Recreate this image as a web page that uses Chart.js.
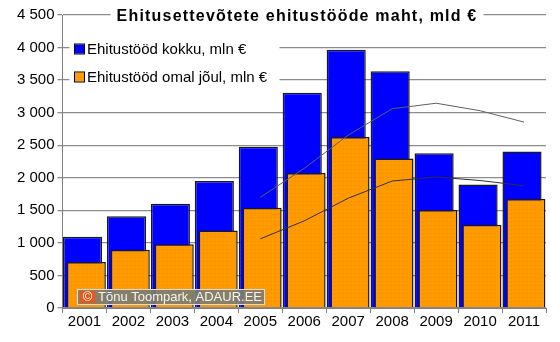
<!DOCTYPE html>
<html>
<head>
<meta charset="utf-8">
<script src="https://cdn.jsdelivr.net/npm/chart.js@4/dist/chart.umd.min.js"></script>
<style>
  html, body { margin: 0; padding: 0; background: #fff; }
  #wrap { width: 560px; height: 342px; }
</style>
</head>
<body>
<div id="wrap"><canvas id="buildChart" width="560" height="342"></canvas></div>
<script>
// data
const years = ['2001', '2002', '2003', '2004', '2005', '2006', '2007', '2008', '2009', '2010', '2011'];
const totalWork = [1095, 1410, 1600, 1950, 2475, 3305, 3965, 3635, 2375, 1895, 2405];
const ownWork = [705, 893, 980, 1190, 1540, 2075, 2625, 2295, 1505, 1278, 1675];
// thin trend lines (from 2005 on)
const totalTrend = [null, null, null, null, 1700, 2145, 2655, 3060, 3145, 3030, 2855];
const ownTrend = [null, null, null, null, 1062, 1338, 1686, 1950, 2012, 1958, 1878];
const yTicks = [0, 500, 1000, 1500, 2000, 2500, 3000, 3500, 4000, 4500];

const titleText = 'Ehitusettevõtete ehitustööde maht, mld €';
const labelTotal = 'Ehitustööd kokku, mln €';
const labelOwn = 'Ehitustööd omal jõul, mln €';

const FONT = '"Liberation Sans", Arial, sans-serif';

// faint dotted fill like the original orange bars
function orangePattern() {
    const c = document.createElement('canvas');
    c.width = 4; c.height = 4;
    const g = c.getContext('2d');
    g.fillStyle = '#FF9A00';
    g.fillRect(0, 0, 4, 4);
    g.fillStyle = '#F08A00';
    g.fillRect(1, 1, 1, 1);
    return g.createPattern(c, 'repeat');
}

function fmt(v) {
    if (v >= 1000) {
        const rest = String(v % 1000).padStart(3, '0');
        return Math.floor(v / 1000) + ' ' + rest;
    }
    return String(v);
}

// nudge bar datasets sideways a bit, like the excel overlap
const shiftPlugin = {
    id: 'shiftBars',
    beforeDatasetDraw(chart, args) {
        const ds = chart.data.datasets[args.index];
        chart.ctx.save();
        if (ds.shift) chart.ctx.translate(ds.shift, 0);
    },
    afterDatasetDraw(chart) {
        chart.ctx.restore();
    }
};

const decorPlugin = {
    id: 'decor',
    afterDraw(chart) {
        const ctx = chart.ctx;
        const area = chart.chartArea;
        ctx.save();

        // title on white box over top grid line
        ctx.font = 'bold 16px ' + FONT;
        ctx.letterSpacing = '1.2px';
        const tw = ctx.measureText(titleText).width;
        const tx = 297;
        ctx.fillStyle = '#fff';
        ctx.fillRect(tx - tw / 2 - 6, area.top - 9, tw + 12, 22);
        ctx.fillStyle = '#000';
        ctx.textAlign = 'center';
        ctx.textBaseline = 'middle';
        ctx.fillText(titleText, tx, 17);
        ctx.letterSpacing = '0px';

        // legend
        ctx.fillStyle = '#fff';
        ctx.fillRect(area.left + 7, 36, 210, 52);
        const items = [[labelTotal, '#0000FF', 49], [labelOwn, '#FF9A00', 77]];
        ctx.font = '15px ' + FONT;
        ctx.textAlign = 'left';
        items.forEach(function (it) {
            ctx.fillStyle = it[1];
            ctx.fillRect(75, it[2] - 4.5, 9, 9);
            ctx.strokeStyle = '#000';
            ctx.lineWidth = 1;
            ctx.strokeRect(74.5, it[2] - 5, 10, 10);
            ctx.fillStyle = '#000';
            ctx.fillText(it[0], 87, it[2] + 1);
        });

        // watermark
        const wx = 77, wy = 289;
        ctx.fillStyle = 'rgba(125,125,112,0.92)';
        ctx.fillRect(wx, wy, 188, 16);
        ctx.strokeStyle = '#ddd';
        ctx.strokeRect(wx + 0.5, wy + 0.5, 187, 15);
        ctx.fillStyle = '#E8581C';
        ctx.fillRect(wx + 3, wy + 2, 15, 12);
        ctx.fillStyle = '#fff';
        ctx.font = '13px ' + FONT;
        ctx.textAlign = 'center';
        ctx.fillText('©', wx + 10.5, wy + 8.5);
        ctx.textAlign = 'left';
        ctx.fillStyle = '#f4f4f4';
        ctx.fillText('Tõnu Toompark, ADAUR.EE', wx + 21, wy + 8.5);
        ctx.restore();
    }
};

const ctx = document.getElementById('buildChart').getContext('2d');
const buildChart = new Chart(ctx, {
    type: 'bar',
    data: {
        labels: years,
        datasets: [
            {
                type: 'line',
                label: 'trend kokku',
                data: totalTrend,
                borderColor: '#606060',
                borderWidth: 1,
                pointRadius: 0,
                fill: false,
                order: 0
            },
            {
                type: 'line',
                label: 'trend omal jõul',
                data: ownTrend,
                borderColor: '#303030',
                borderWidth: 1,
                pointRadius: 0,
                fill: false,
                order: 0
            },
            {
                label: labelOwn,
                data: ownWork,
                backgroundColor: orangePattern(),
                borderColor: '#1a1a1a',
                borderWidth: 1.5,
                grouped: false,
                categoryPercentage: 1,
                barPercentage: 0.89,
                shift: 1.8,
                order: 1
            },
            {
                label: labelTotal,
                data: totalWork,
                backgroundColor: '#0000FF',
                borderColor: '#1a1a1a',
                borderWidth: 1.5,
                grouped: false,
                categoryPercentage: 1,
                barPercentage: 0.89,
                shift: -2,
                order: 2
            }
        ]
    },
    options: {
        responsive: false,
        animation: false,
        layout: { padding: { top: 15, right: 14, left: 0, bottom: 11 } },
        plugins: {
            legend: { display: false },
            title: { display: false },
            tooltip: { enabled: false }
        },
        scales: {
            x: {
                offset: true,
                grid: {
                    offset: true,
                    drawOnChartArea: false,
                    drawTicks: true,
                    tickLength: 5,
                    color: '#808080'
                },
                border: { color: '#808080' },
                ticks: {
                    color: '#000',
                    font: { family: FONT, size: 15 },
                    padding: 0,
                    maxRotation: 0
                }
            },
            y: {
                min: 0,
                max: 4500,
                afterBuildTicks(axis) {
                    axis.ticks = yTicks.map(v => ({ value: v }));
                },
                afterFit(axis) { axis.width = 62.5; },
                grid: {
                    color: '#8c8c8c',
                    lineWidth: 1.3,
                    tickLength: 5
                },
                border: { color: '#808080' },
                ticks: {
                    color: '#000',
                    font: { family: FONT, size: 15 },
                    padding: 3,
                    callback: v => fmt(v)
                }
            }
        }
    },
    plugins: [shiftPlugin, decorPlugin]
});
</script>
</body>
</html>
